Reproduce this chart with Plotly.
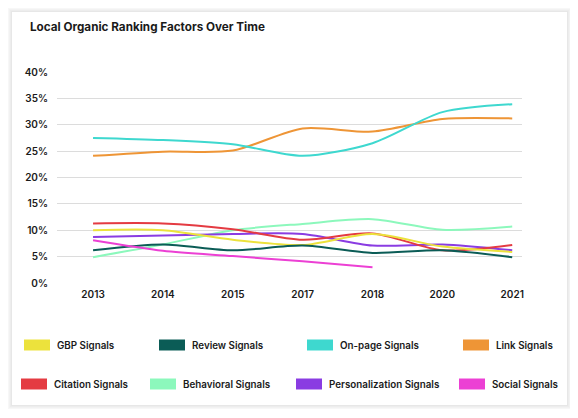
import plotly.graph_objects as go

years = ["2013", "2014", "2015", "2017", "2018", "2020", "2021"]
series_names = ["GBP Signals", "Review Signals", "On-page Signals", "Link Signals",
                "Citation Signals", "Behavioral Signals", "Personalization Signals", "Social Signals"]
gbp = [10.0, 10.0, 8.2, 7.2, 9.3, 6.9, 5.9]
review = [6.2, 7.3, 6.2, 7.1, 5.7, 6.2, 4.9]
onpage = [27.5, 27.1, 26.3, 24.1, 26.5, 32.4, 33.9]
link = [24.1, 24.9, 25.1, 29.3, 28.7, 31.1, 31.2]
citation = [11.3, 11.3, 10.2, 8.2, 9.4, 6.2, 7.2]
behavioral = [4.9, 7.3, 10.0, 11.2, 12.1, 10.1, 10.7]
personalization = [8.7, 9.0, 9.3, 9.3, 7.1, 7.3, 6.2]
social = [8.1, 6.1, 5.1, 4.1, 3.0, None, None]
y_ticks = [0, 5, 10, 15, 20, 25, 30, 35, 40]
y_tick_labels = ["0%", "5%", "10%", "15%", "20%", "25%", "30%", "35%", "40%"]

values = [gbp, review, onpage, link, citation, behavioral, personalization, social]
colors = ["#ECE23C", "#0B5C56", "#3ED8CF", "#EE9536", "#E43B42", "#8CF8BC", "#8A3CE2", "#EC40D4"]

OFF = 8  # page body margin
W, H = 578 - OFF, 418 - OFF
L, R, T, B = 57 - OFF, 522 - OFF, 72 - OFF, 283 - OFF

def px(x):
    return (x - OFF - L) / (R - L)

def py(y):
    return (B - (y - OFF)) / (B - T)

fig = go.Figure()
order = [5, 3, 2, 6, 4, 0, 1, 7]
for i in order:
    fig.add_trace(go.Scatter(
        x=years, y=values[i], name=series_names[i], mode="lines",
        line=dict(color=colors[i], width=2, shape="spline", smoothing=0.8),
        connectgaps=False, showlegend=False, hoverinfo="skip"))

shapes = []
for k, c in [(4, "#f7f7f7"), (3, "#f2f2f2"), (2, "#ededed"), (1, "#e7e7e7")]:
    shapes.append(dict(type="rect", xref="paper", yref="paper",
                       x0=px(12 - k), x1=px(567 + k), y0=py(405 + k), y1=py(12 - k),
                       fillcolor=c, line=dict(width=0), layer="below"))
shapes.append(dict(type="rect", xref="paper", yref="paper",
                   x0=px(12), x1=px(567), y0=py(405), y1=py(12),
                   fillcolor="white", line=dict(width=0), layer="below"))

annotations = [dict(text="<b>Local Organic Ranking Factors Over Time</b>", xref="paper", yref="paper",
                    x=px(28), y=py(27), xanchor="left", yanchor="middle", showarrow=False,
                    font=dict(size=11.7, color="#1a1a1a", family="Inter"))]

swatch_x = [24, 159, 307, 463, 21, 150, 296, 459]
row_y = [345, 345, 345, 345, 384, 384, 384, 384]
for i in range(8):
    sx, sy = swatch_x[i], row_y[i]
    shapes.append(dict(type="rect", xref="paper", yref="paper",
                       x0=px(sx), x1=px(sx + 26), y0=py(sy + 5.5), y1=py(sy - 5.5),
                       fillcolor=colors[i], line=dict(width=0)))
    annotations.append(dict(text=series_names[i], xref="paper", yref="paper",
                            x=px(sx + 31), y=py(sy), xanchor="left", yanchor="middle",
                            showarrow=False,
                            font=dict(size=9.8, color="#1a1a1a", family="Inter", weight=600)))

fig.update_layout(
    width=W, height=H,
    margin=dict(l=L, r=W - R, t=T, b=H - B),
    paper_bgcolor="white", plot_bgcolor="rgba(0,0,0,0)",
    shapes=shapes, annotations=annotations, showlegend=False,
    font=dict(family="Inter", size=10, color="#1a1a1a"),
    xaxis=dict(type="category", range=[-0.516, 6.14], showgrid=False, zeroline=False,
               showline=False, ticks="", tickfont=dict(size=10, weight=600), ticklabelstandoff=4),
    yaxis=dict(range=[0, 40], tickvals=y_ticks, ticktext=y_tick_labels,
               showgrid=True, gridcolor="#dcdcdc", gridwidth=1, zeroline=False,
               showline=False, ticks="", tickfont=dict(size=10, weight=600), ticklabelstandoff=8),
)

fig.write_html("out.html")
